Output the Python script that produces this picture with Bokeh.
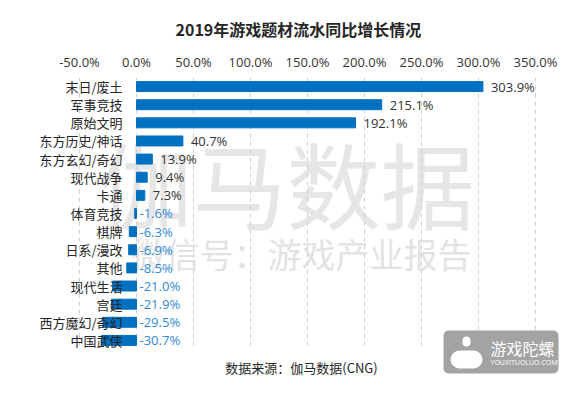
from bokeh.plotting import figure
from bokeh.models import ColumnDataSource, FixedTicker, Label, Range1d, BoxAnnotation
from bokeh.core.properties import value
from bokeh.embed import file_html
from bokeh.resources import INLINE

categories = ["末日/废土", "军事竞技", "原始文明", "东方历史/神话", "东方玄幻/奇幻", "现代战争", "卡通",
              "体育竞技", "棋牌", "日系/漫改", "其他", "现代生活", "宫廷", "西方魔幻/奇幻", "中国武侠"]
growth = [303.9, 215.1, 192.1, 40.7, 13.9, 9.4, 7.3, -1.6, -6.3, -6.9, -8.5, -21.0, -21.9, -29.5, -30.7]
tick_values = [-50, 0, 50, 100, 150, 200, 250, 300, 350]
tick_labels = ["-50.0%", "0.0%", "50.0%", "100.0%", "150.0%", "200.0%", "250.0%", "300.0%", "350.0%"]
title_text = "2019年游戏题材流水同比增长情况"
source_text = "数据来源：伽马数据(CNG)"

CJK = "Noto Sans CJK SC"
NUM = "Open Sans"

n = len(categories)
ypos = [-i for i in range(n)]          # category slots, top to bottom

p = figure(width=562, height=380, output_backend="svg", toolbar_location=None,
           x_range=Range1d(-105.26, 373.7), y_range=Range1d(-16.21, 0.5),
           x_axis_location="above", y_axis_location=None,
           min_border_left=16, min_border_right=0, min_border_top=77, min_border_bottom=0)
p.outline_line_color = None
p.background_fill_color = "white"

p.title.text = title_text
p.title.align = "left"
p.title.offset = 159
p.title.standoff = 17
p.title.text_font = CJK
p.title.text_font_size = "16px"
p.title.text_font_style = "bold"
p.title.text_color = "#262626"

# watermarks (behind)
p.add_layout(Label(x=270, y=199, x_units="screen", y_units="screen", text="伽马数据",
                   text_font=CJK, text_font_size="94px", text_color="#e6e6e6",
                   text_align="center", text_baseline="middle", level="underlay"))
p.add_layout(Label(x=285, y=127, x_units="screen", y_units="screen", text="微信号：游戏产业报告",
                   text_font=CJK, text_font_size="34px", text_color="#e3e3e3",
                   text_align="center", text_baseline="middle", level="underlay"))

ax = p.xaxis[0]
ax.ticker = FixedTicker(ticks=tick_values)
ax.major_label_overrides = {t: l for t, l in zip(tick_values, tick_labels)}
ax.axis_line_color = None
ax.major_tick_line_color = None
ax.minor_tick_line_color = None
ax.major_label_standoff = 1
ax.major_label_text_font = NUM
ax.major_label_text_font_size = "13px"
ax.major_label_text_color = "#333333"
p.grid.visible = False

# dashed vertical grid lines spanning the category band
p.segment(x0=tick_values, x1=tick_values, y0=[ypos[0] + 0.5] * len(tick_values),
          y1=[ypos[-1] - 0.5] * len(tick_values), line_color="#cfcfcf", line_dash="4 4", line_width=1)

lab_x = [v if v > 0 else 0 for v in growth]
lab_off = [8 if v > 0 else 3 for v in growth]
lab_col = ["#333333" if v > 0 else "#2f8ad6" for v in growth]
src = ColumnDataSource(dict(cat=categories, y=ypos, v=growth, lx=lab_x, lo=lab_off, lc=lab_col,
                            lt=[f"{v:.1f}%" for v in growth], zero=[0] * n))

p.hbar(y="y", left=0, right="v", height=0.55, color="#0070c0", source=src)

p.text(x="zero", y="y", text="cat", x_offset=-14, text_align="right", text_baseline="middle",
       text_font=value(CJK), text_font_size="13px", text_color="#262626", source=src)
p.text(x="lx", y="y", text="lt", x_offset="lo", text_align="left", text_baseline="middle",
       text_font=value(NUM), text_font_size="13px", text_color="lc", source=src)

# source note
p.add_layout(Label(x=285, y=13, x_units="screen", y_units="screen", text=source_text,
                   text_font=CJK, text_font_size="13px", text_color="#262626",
                   text_align="center", text_baseline="middle"))

# logo badge
def sbox(l, r, t, b, color, rad):
    return BoxAnnotation(left=l, right=r, top=t, bottom=b, left_units="screen", right_units="screen",
                         top_units="screen", bottom_units="screen", fill_color=color, fill_alpha=1,
                         line_color=None, border_radius=rad)

p.add_layout(sbox(427, 542, 50, 7, "#a3a3a3", 5))
p.add_layout(sbox(434, 466, 30, 12, "white", 9))
p.add_layout(sbox(446, 454, 44, 34, "white", 4))
p.add_layout(Label(x=474, y=33, x_units="screen", y_units="screen", text="游戏陀螺",
                   text_font=CJK, text_font_size="16px", text_color="white",
                   text_align="left", text_baseline="middle"))
p.add_layout(Label(x=474, y=18, x_units="screen", y_units="screen", text="YOUXITUOLUO.COM",
                   text_font=NUM, text_font_size="7px", text_color="white",
                   text_align="left", text_baseline="middle"))

open("out.html", "w").write(file_html(p, INLINE))
